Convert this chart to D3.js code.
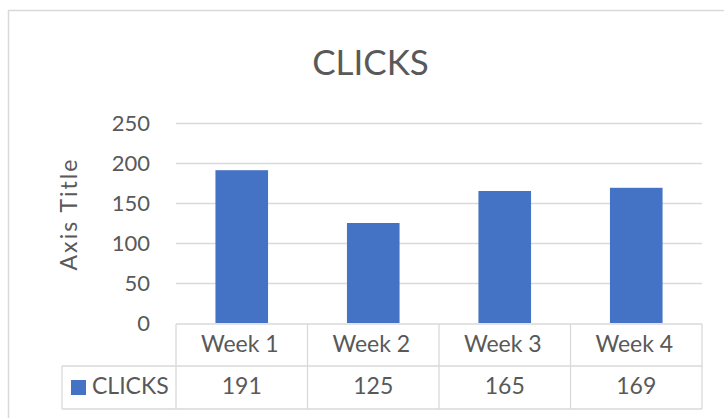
<!DOCTYPE html>
<html>
<head>
<meta charset="utf-8">
<script src="https://cdn.jsdelivr.net/npm/d3@7"></script>
<style>
  html, body { margin: 0; padding: 0; background: #fff; }
  svg { display: block; }
  text { font-family: Lato, "Open Sans", sans-serif; fill: #595959; }
</style>
</head>
<body>
<svg id="chart" width="724" height="418"></svg>
<script>
// Weekly click counts
const categories = ["Week 1", "Week 2", "Week 3", "Week 4"];
const clicks = [191, 125, 165, 169];
const yTicks = [0, 50, 100, 150, 200, 250];
const seriesName = "CLICKS";
const chartTitle = "CLICKS";
const yAxisTitle = "Axis Title";

const W = 724, H = 418;
const plot = { left: 176, right: 702, top: 123, bottom: 323 };
const table = { left: 62, headerTop: 324, rowMid: 366, bottom: 409 };
const grey = "#d9d9d9";
const barColor = "#4472C4";

const svg = d3.select("#chart");

// Chart frame
svg.append("rect")
  .attr("x", 8.5).attr("y", 10.5)
  .attr("width", 740).attr("height", 420)
  .attr("fill", "#fff").attr("stroke", grey).attr("stroke-width", 1.5);

const x = d3.scaleBand().domain(categories).range([plot.left, plot.right]).paddingInner(0.6).paddingOuter(0.3);
const xCol = d3.scaleBand().domain(categories).range([plot.left, plot.right]);
const y = d3.scaleLinear().domain([0, 250]).range([plot.bottom, plot.top]);

// Title
svg.append("text")
  .attr("x", 370.5).attr("y", 74.5)
  .attr("text-anchor", "middle")
  .style("font-size", "35px")
  .text(chartTitle);

// Value axis with gridlines
const yAxis = d3.axisLeft(y).tickValues(yTicks).tickSize(-(plot.right - plot.left)).tickPadding(26);
const gy = svg.append("g").attr("transform", `translate(${plot.left},0)`).call(yAxis);
gy.select(".domain").remove();
gy.selectAll(".tick line")
  .attr("stroke", grey).attr("stroke-width", 1.3)
  .filter(d => d === 0).remove();
gy.selectAll(".tick text")
  .style("font-size", "22px").attr("fill", "#595959").attr("font-family", null)
  .attr("dy", "0.36em");

// Axis title
svg.append("text")
  .attr("transform", `translate(77,215) rotate(-90)`)
  .attr("text-anchor", "middle")
  .attr("textLength", 111)
  .attr("lengthAdjust", "spacing")
  .style("font-size", "23px")
  .text(yAxisTitle);

// Bars
svg.append("g").selectAll("rect")
  .data(clicks)
  .join("rect")
  .attr("x", (d, i) => x(categories[i]))
  .attr("y", d => y(d))
  .attr("width", x.bandwidth())
  .attr("height", d => y(0) - y(d))
  .attr("fill", barColor);

// Data table
const tg = svg.append("g").attr("stroke", grey).attr("stroke-width", 1.3).attr("fill", "none");
tg.append("line").attr("x1", plot.left).attr("x2", plot.right).attr("y1", table.headerTop).attr("y2", table.headerTop);
tg.append("line").attr("x1", table.left).attr("x2", plot.right).attr("y1", table.rowMid).attr("y2", table.rowMid);
tg.append("line").attr("x1", table.left).attr("x2", plot.right).attr("y1", table.bottom).attr("y2", table.bottom);
tg.append("line").attr("x1", table.left).attr("x2", table.left).attr("y1", table.rowMid).attr("y2", table.bottom);
tg.selectAll("line.col")
  .data(categories.map(c => xCol(c)).concat([plot.right]))
  .join("line").attr("class", "col")
  .attr("x1", d => d).attr("x2", d => d)
  .attr("y1", table.headerTop).attr("y2", table.bottom);

svg.append("g").selectAll("text")
  .data(categories)
  .join("text")
  .attr("x", d => xCol(d) + xCol.bandwidth() / 2 - 2)
  .attr("y", 352)
  .attr("text-anchor", "middle")
  .style("font-size", "23px")
  .text(d => d);

svg.append("g").selectAll("text")
  .data(clicks)
  .join("text")
  .attr("x", (d, i) => xCol(categories[i]) + xCol.bandwidth() / 2)
  .attr("y", 393.5)
  .attr("text-anchor", "middle")
  .style("font-size", "23px")
  .text(d => d);

// Legend key inside the table
svg.append("rect")
  .attr("x", 71).attr("y", 380).attr("width", 15).attr("height", 15)
  .attr("fill", barColor);
svg.append("text")
  .attr("x", 92).attr("y", 393.5)
  .style("font-size", "23px")
  .text(seriesName);
</script>
</body>
</html>
